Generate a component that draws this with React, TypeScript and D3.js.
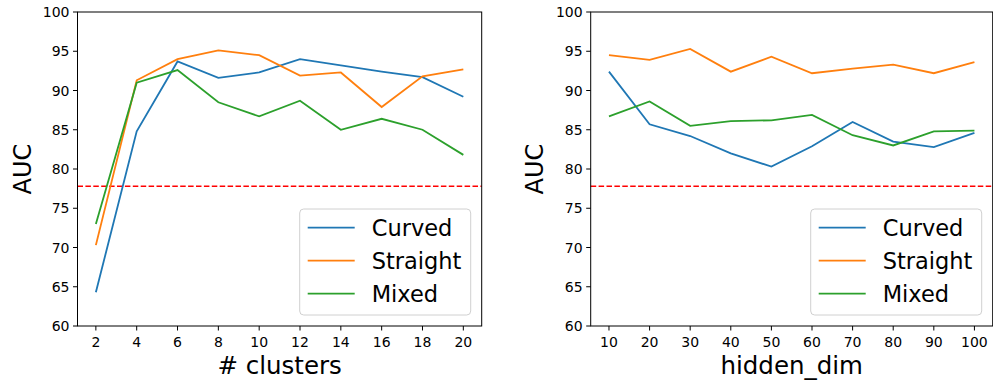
import React from 'react';
import * as d3 from 'd3';

// data
const clusters = [2, 4, 6, 8, 10, 12, 14, 16, 18, 20];
const curvedClusters = [64.3, 84.8, 93.7, 91.6, 92.3, 94.0, 93.2, 92.4, 91.7, 89.2];
const straightClusters = [70.3, 91.3, 94.0, 95.1, 94.5, 91.9, 92.3, 87.9, 91.8, 92.7];
const mixedClusters = [73.0, 91.0, 92.6, 88.5, 86.7, 88.7, 85.0, 86.4, 85.0, 81.8];

const hiddenDims = [10, 20, 30, 40, 50, 60, 70, 80, 90, 100];
const curvedHidden = [92.4, 85.7, 84.2, 82.0, 80.3, 82.9, 86.0, 83.5, 82.8, 84.6];
const straightHidden = [94.5, 93.9, 95.3, 92.4, 94.3, 92.2, 92.8, 93.3, 92.2, 93.6];
const mixedHidden = [86.7, 88.6, 85.5, 86.1, 86.2, 86.9, 84.3, 83.0, 84.8, 84.9];

const yTicks = [60, 65, 70, 75, 80, 85, 90, 95, 100];
const baseline = 77.8;
const seriesNames = ['Curved', 'Straight', 'Mixed'];
const colors = ['#1f77b4', '#ff7f0e', '#2ca02c'];

const FONT = 'DejaVu Sans, sans-serif';

type PanelProps = {
  left: number;
  right: number;
  xs: number[];
  series: number[][];
  xLabel: string;
  yLabelX: number;
};

const Panel = ({ left, right, xs, series, xLabel, yLabelX }: PanelProps) => {
  const top = 12;
  const bottom = 326;
  const xMin = d3.min(xs)!;
  const xMax = d3.max(xs)!;
  const pad = (xMax - xMin) * 0.05;
  const x = d3.scaleLinear().domain([xMin - pad, xMax + pad]).range([left, right]);
  const y = d3.scaleLinear().domain([60, 100]).range([bottom, top]);

  const line = d3.line<number>()
    .x((_, i) => x(xs[i]))
    .y(d => y(d));

  // legend box
  const lgW = 171;
  const lgX = right - 11 - lgW;
  const lgY = 209;
  const lgH = 106;

  return (
    <g>
      {/* data lines */}
      <line x1={left} x2={right} y1={y(baseline)} y2={y(baseline)}
        stroke="#ff0000" strokeWidth={1.5} strokeDasharray="5.5,2.4" />
      {series.map((s, i) => (
        <path key={i} d={line(s) || ''} fill="none" stroke={colors[i]} strokeWidth={1.8} />
      ))}

      {/* spines */}
      <rect x={left} y={top} width={right - left} height={bottom - top}
        fill="none" stroke="#000" strokeWidth={1} />

      {/* y axis */}
      {yTicks.map(t => (
        <g key={t}>
          <line x1={left - 4.5} x2={left} y1={y(t)} y2={y(t)} stroke="#000" strokeWidth={1} />
          <text x={left - 8} y={y(t)} dy="0.36em" textAnchor="end"
            fontSize={14} fontFamily={FONT} fill="#000">{t}</text>
        </g>
      ))}
      <text transform={`translate(${yLabelX},${(top + bottom) / 2}) rotate(-90)`}
        textAnchor="middle" dy="0.36em" fontSize={24} fontFamily={FONT} fill="#000">AUC</text>

      {/* x axis */}
      {xs.map(t => (
        <g key={t}>
          <line x1={x(t)} x2={x(t)} y1={bottom} y2={bottom + 4.5} stroke="#000" strokeWidth={1} />
          <text x={x(t)} y={bottom + 21} textAnchor="middle"
            fontSize={14} fontFamily={FONT} fill="#000">{t}</text>
        </g>
      ))}
      <text x={(left + right) / 2} y={374} textAnchor="middle"
        fontSize={24.5} fontFamily={FONT} fill="#000">{xLabel}</text>

      {/* legend */}
      <rect x={lgX} y={lgY} width={lgW} height={lgH} rx={4}
        fill="#fff" fillOpacity={0.8} stroke="#d0d0d0" strokeWidth={1} />
      {seriesNames.map((n, i) => {
        const ry = 227.7 + i * 33;
        return (
          <g key={n}>
            <line x1={lgX + 8} x2={lgX + 55} y1={ry} y2={ry} stroke={colors[i]} strokeWidth={1.8} />
            <text x={lgX + 72} y={ry} dy="0.36em" fontSize={22.5} fontFamily={FONT} fill="#000">{n}</text>
          </g>
        );
      })}
    </g>
  );
};

export default function App() {
  return (
    <svg width={993} height={381}
      style={{ position: 'absolute', left: 0, top: 0, background: '#fff' }}>
      <rect width={993} height={381} fill="#fff" />
      <Panel left={77.5} right={481.7} xs={clusters}
        series={[curvedClusters, straightClusters, mixedClusters]}
        xLabel="# clusters" yLabelX={22} />
      <Panel left={590.7} right={992.7} xs={hiddenDims}
        series={[curvedHidden, straightHidden, mixedHidden]}
        xLabel="hidden_dim" yLabelX={534} />
    </svg>
  );
}
